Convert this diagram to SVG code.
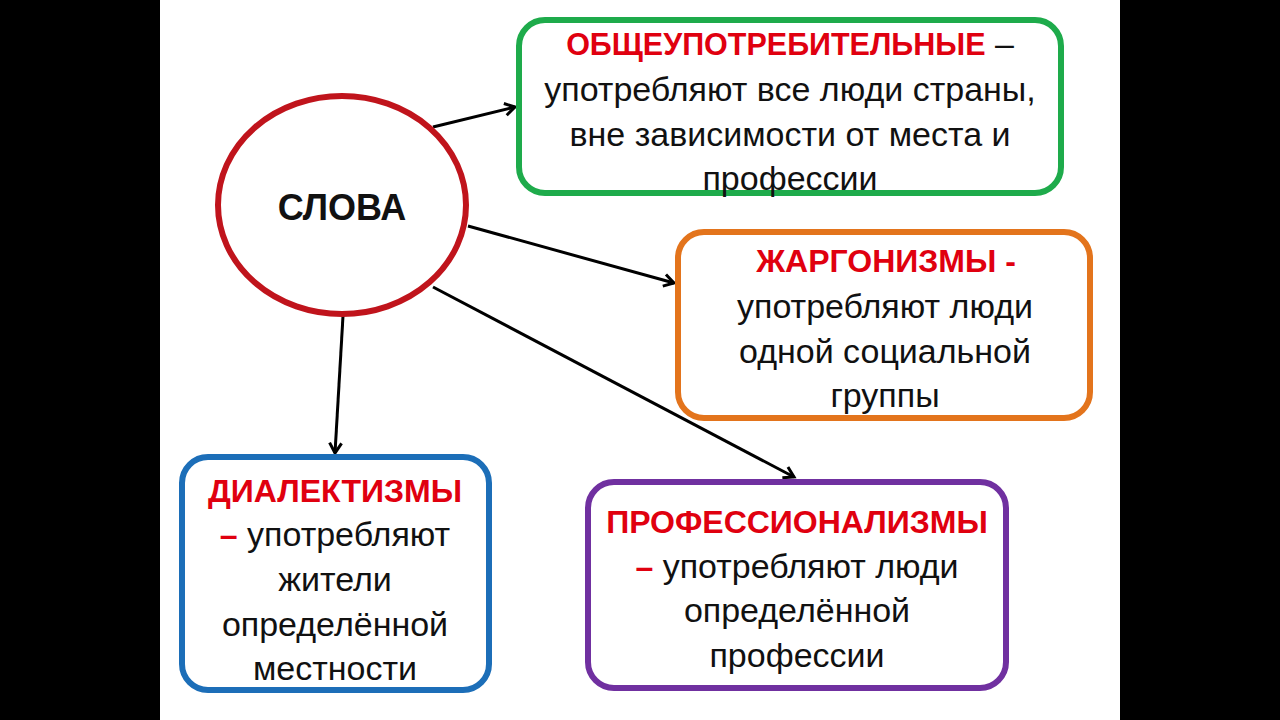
<svg xmlns="http://www.w3.org/2000/svg" width="1280" height="720" viewBox="0 0 1280 720">
<defs>
<style>
.t{font-family:"Liberation Sans","Open Sans",Arial,sans-serif;font-size:34px;fill:#111;text-anchor:middle}
.r{fill:#E0000F;font-weight:bold;font-size:32px}
.b{font-weight:bold}
.box{fill:#fff;stroke-width:6}
.con{stroke:#000;stroke-width:3;fill:none;marker-end:url(#ah)}
</style>
<marker id="ah" viewBox="0 0 16 16" refX="13" refY="8" markerWidth="16" markerHeight="16" markerUnits="userSpaceOnUse" orient="auto">
<path d="M3,2 L13,8 L3,14" fill="none" stroke="#000" stroke-width="3" stroke-linejoin="miter"/>
</marker>
</defs>
<rect x="0" y="0" width="1280" height="720" fill="#000"/>
<rect x="160" y="0" width="960" height="720" fill="#fff"/>
<g id="connectors">
<line class="con" x1="433" y1="127" x2="515" y2="107"/>
<line class="con" x1="468" y1="226" x2="674" y2="283"/>
<line class="con" x1="433" y1="287" x2="794" y2="477"/>
<line class="con" x1="343" y1="316" x2="335" y2="453"/>
</g>
<g id="slova">
<ellipse cx="342" cy="205" rx="124" ry="109" fill="#fff" stroke="#C0141C" stroke-width="6"/>
<text class="t b" x="342" y="220" style="font-size:36px">СЛОВА</text>
</g>
<g id="obshche">
<rect class="box" x="519" y="20" width="542" height="173" rx="26" stroke="#1EAB4B"/>
<text class="t" x="790" y="55"><tspan class="r" style="font-size:30.5px">ОБЩЕУПОТРЕБИТЕЛЬНЫЕ</tspan> –</text>
<text class="t" x="790" y="101">употребляют все люди страны,</text>
<text class="t" x="790" y="146">вне зависимости от места и</text>
<text class="t" x="790" y="190">профессии</text>
</g>
<g id="zhargon">
<rect class="box" x="678" y="232" width="412" height="186" rx="26" stroke="#E3741C"/>
<text class="t" x="886" y="272"><tspan class="r">ЖАРГОНИЗМЫ -</tspan></text>
<text class="t" x="885" y="318">употребляют люди</text>
<text class="t" x="885" y="363">одной социальной</text>
<text class="t" x="885" y="407">группы</text>
</g>
<g id="dialekt">
<rect class="box" x="182" y="457" width="307" height="233" rx="26" stroke="#1C6EB8"/>
<text class="t" x="335" y="502"><tspan class="r">ДИАЛЕКТИЗМЫ</tspan></text>
<text class="t" x="335" y="546"><tspan class="r">–</tspan> употребляют</text>
<text class="t" x="335" y="591">жители</text>
<text class="t" x="335" y="636">определённой</text>
<text class="t" x="335" y="680">местности</text>
</g>
<g id="prof">
<rect class="box" x="588" y="482" width="418" height="206" rx="26" stroke="#7030A0"/>
<text class="t" x="797" y="533"><tspan class="r">ПРОФЕССИОНАЛИЗМЫ</tspan></text>
<text class="t" x="797" y="578"><tspan class="r">–</tspan> употребляют люди</text>
<text class="t" x="797" y="622">определённой</text>
<text class="t" x="797" y="667">профессии</text>
</g>
</svg>
